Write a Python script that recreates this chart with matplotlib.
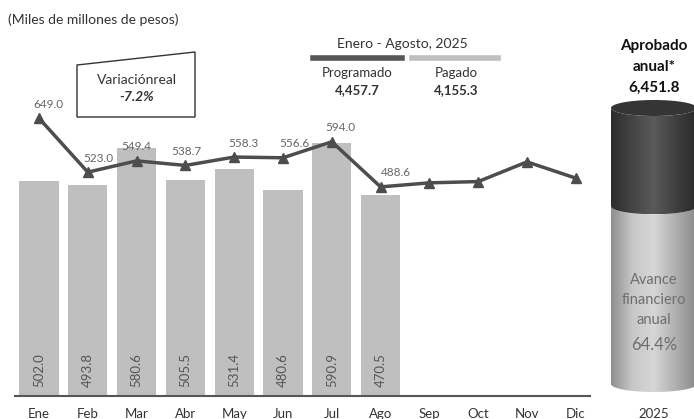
import matplotlib

matplotlib.use("Agg")
import matplotlib.pyplot as plt
import numpy as np
from matplotlib.colors import LinearSegmentedColormap
from matplotlib.lines import Line2D
from matplotlib.patches import Polygon

plt.rcParams["font.family"] = ["Lato", "DejaVu Sans"]

MONTHS = ["Ene", "Feb", "Mar", "Abr", "May", "Jun", "Jul", "Ago", "Sep", "Oct", "Nov", "Dic"]
PAGADO = [502.0, 493.8, 580.6, 505.5, 531.4, 480.6, 590.9, 470.5]
PROGRAMADO = [649.0, 523.0, 549.4, 538.7, 558.3, 556.6, 594.0, 488.6, 498.0, 501.0, 547.0, 509.0]
N_LABELED = 8
LABEL_DX = [9, 11, 0, 1, 9, 11, 9, 15]
AVANCE_PCT = 64.4
TOTAL_PROGRAMADO = "4,457.7"
TOTAL_PAGADO = "4,155.3"
APROBADO = "6,451.8"
VARIACION = "-7.2%"

BAR_COLOR = "#bfbfbf"
LINE_COLOR = "#4d4d4d"
TEXT_COLOR = "#333333"
W, H = 694, 419


def fx(x):
    return x / W


def fy(y):
    return 1 - y / H


fig = plt.figure(figsize=(W / 100, H / 100), dpi=100)

# main chart: baseline at y=396 px, 0.428 px per unit, month spacing 48.8 px
base_px = 396
ppu = 0.428
ax = fig.add_axes([0, fy(base_px), 1, base_px / H])
ax.set_ylim(0, base_px / ppu)
ax.set_xlim(-39 / 48.8, (W - 39) / 48.8)
ax.axis("off")

x = np.arange(len(MONTHS))
xp = x[: len(PAGADO)]
ax.bar(xp, PAGADO, width=0.8, color=BAR_COLOR, zorder=1)
ax.plot([-0.5, 11.3], [0, 0], color="#555555", lw=1.5, zorder=2, clip_on=False)
ax.plot(x, PROGRAMADO, color=LINE_COLOR, lw=2.5, marker="^", ms=6.5, zorder=3)

for i, v in enumerate(PAGADO):
    ax.text(xp[i], 20, f"{v:.1f}", rotation=90, ha="center", va="bottom",
            fontsize=9.5, color="#555555", zorder=4)
for i in range(N_LABELED):
    ax.annotate(f"{PROGRAMADO[i]:.1f}", (x[i], PROGRAMADO[i]),
                xytext=(LABEL_DX[i] * 0.72, 10), textcoords="offset points",
                ha="center", va="center", fontsize=8.5, color="#666666", zorder=4)

for i, m in enumerate(MONTHS):
    fig.text(fx(39 + 48.8 * i), fy(418), m, ha="center", va="baseline", fontsize=9.5, color=TEXT_COLOR)

# header texts
fig.text(fx(8), fy(20), "(Miles de millones de pesos)", ha="left", va="center", fontsize=10, color=TEXT_COLOR)
fig.text(fx(402), fy(44), "Enero - Agosto, 2025", ha="center", va="center", fontsize=10, color=TEXT_COLOR)
fig.add_artist(Line2D([fx(313), fx(402)], [fy(58), fy(58)], color="#555555", lw=4))
fig.add_artist(Line2D([fx(412), fx(498)], [fy(58), fy(58)], color=BAR_COLOR, lw=4))
fig.text(fx(357), fy(73), "Programado", ha="center", va="center", fontsize=9.5, color=TEXT_COLOR)
fig.text(fx(357), fy(90), TOTAL_PROGRAMADO, ha="center", va="center", fontsize=9.5, color=TEXT_COLOR, weight="bold")
fig.text(fx(456), fy(73), "Pagado", ha="center", va="center", fontsize=9.5, color=TEXT_COLOR)
fig.text(fx(456), fy(90), TOTAL_PAGADO, ha="center", va="center", fontsize=9.5, color=TEXT_COLOR, weight="bold")

# variation box
box = Polygon([(fx(77), fy(65)), (fx(195), fy(52)), (fx(195), fy(117)), (fx(77), fy(117))],
              closed=True, fill=False, edgecolor="#333333", lw=1, transform=fig.transFigure)
fig.add_artist(box)
fig.text(fx(137), fy(80), "Variaciónreal", ha="center", va="center", fontsize=10, color=TEXT_COLOR)
fig.text(fx(137), fy(97), VARIACION, ha="center", va="center", fontsize=10, color=TEXT_COLOR,
         weight="bold", style="italic")

# approved annual
fig.text(fx(654), fy(46), "Aprobado", ha="center", va="center", fontsize=11, color="#111111", weight="bold")
fig.text(fx(654), fy(67), "anual*", ha="center", va="center", fontsize=11, color="#111111", weight="bold")
fig.text(fx(654), fy(88), APROBADO, ha="center", va="center", fontsize=11, color="#111111", weight="bold")
fig.text(fx(654), fy(418), "2025", ha="center", va="baseline", fontsize=9.5, color=TEXT_COLOR)

# cylinder: y 0 at bottom ellipse centre (384 px), 100 at top ellipse centre (108 px)
c_bot, c_top = 384, 108
cpu = (c_bot - c_top) / 100
pad = 12
cax = fig.add_axes([fx(611), fy(c_bot + pad), fx(697) - fx(611), (c_bot - c_top + 2 * pad) / H])
cax.set_xlim(0, 1)
cax.set_ylim(-pad / cpu, 100 + pad / cpu)
cax.axis("off")
b = 8 / cpu
t = np.linspace(0, np.pi, 80)
ex = 0.5 + 0.5 * np.cos(t)
ey = np.sin(t)


def segment(y0, y1, cmap):
    # region between lower arcs at y0 and y1
    lower = np.column_stack([ex[::-1], y0 - b * ey[::-1]])
    upper = np.column_stack([ex, y1 - b * ey])
    poly = Polygon(np.vstack([lower, upper]), closed=True, facecolor="none", edgecolor="none")
    cax.add_patch(poly)
    grad = np.linspace(0, 1, 256)[None, :]
    im = cax.imshow(grad, cmap=cmap, extent=(0, 1, y0 - b, y1 + b), aspect="auto", zorder=1)
    im.set_clip_path(poly)


light = LinearSegmentedColormap.from_list("light", ["#8e8e8e", "#c8c8c8", "#d6d6d6", "#b0b0b0", "#8a8a8a"])
dark = LinearSegmentedColormap.from_list("dark", ["#2c2c2c", "#454545", "#5a5a5a", "#404040", "#2a2a2a"])
segment(0, AVANCE_PCT, light)
segment(AVANCE_PCT, 100, dark)
top = np.column_stack([0.5 + 0.5 * np.cos(np.linspace(0, 2 * np.pi, 160)),
                       100 + b * np.sin(np.linspace(0, 2 * np.pi, 160))])
cax.add_patch(Polygon(top, closed=True, facecolor="#353535", edgecolor="none", zorder=2))

for label, ypx, fs in [("Avance", 280, 10.5), ("financiero", 300, 10.5), ("anual", 320, 10.5),
                       (f"{AVANCE_PCT:.1f}%", 345, 12)]:
    fig.text(fx(654), fy(ypx), label, ha="center", va="center", fontsize=fs, color="#6e6e6e")

fig.savefig("out.png", dpi=100)
